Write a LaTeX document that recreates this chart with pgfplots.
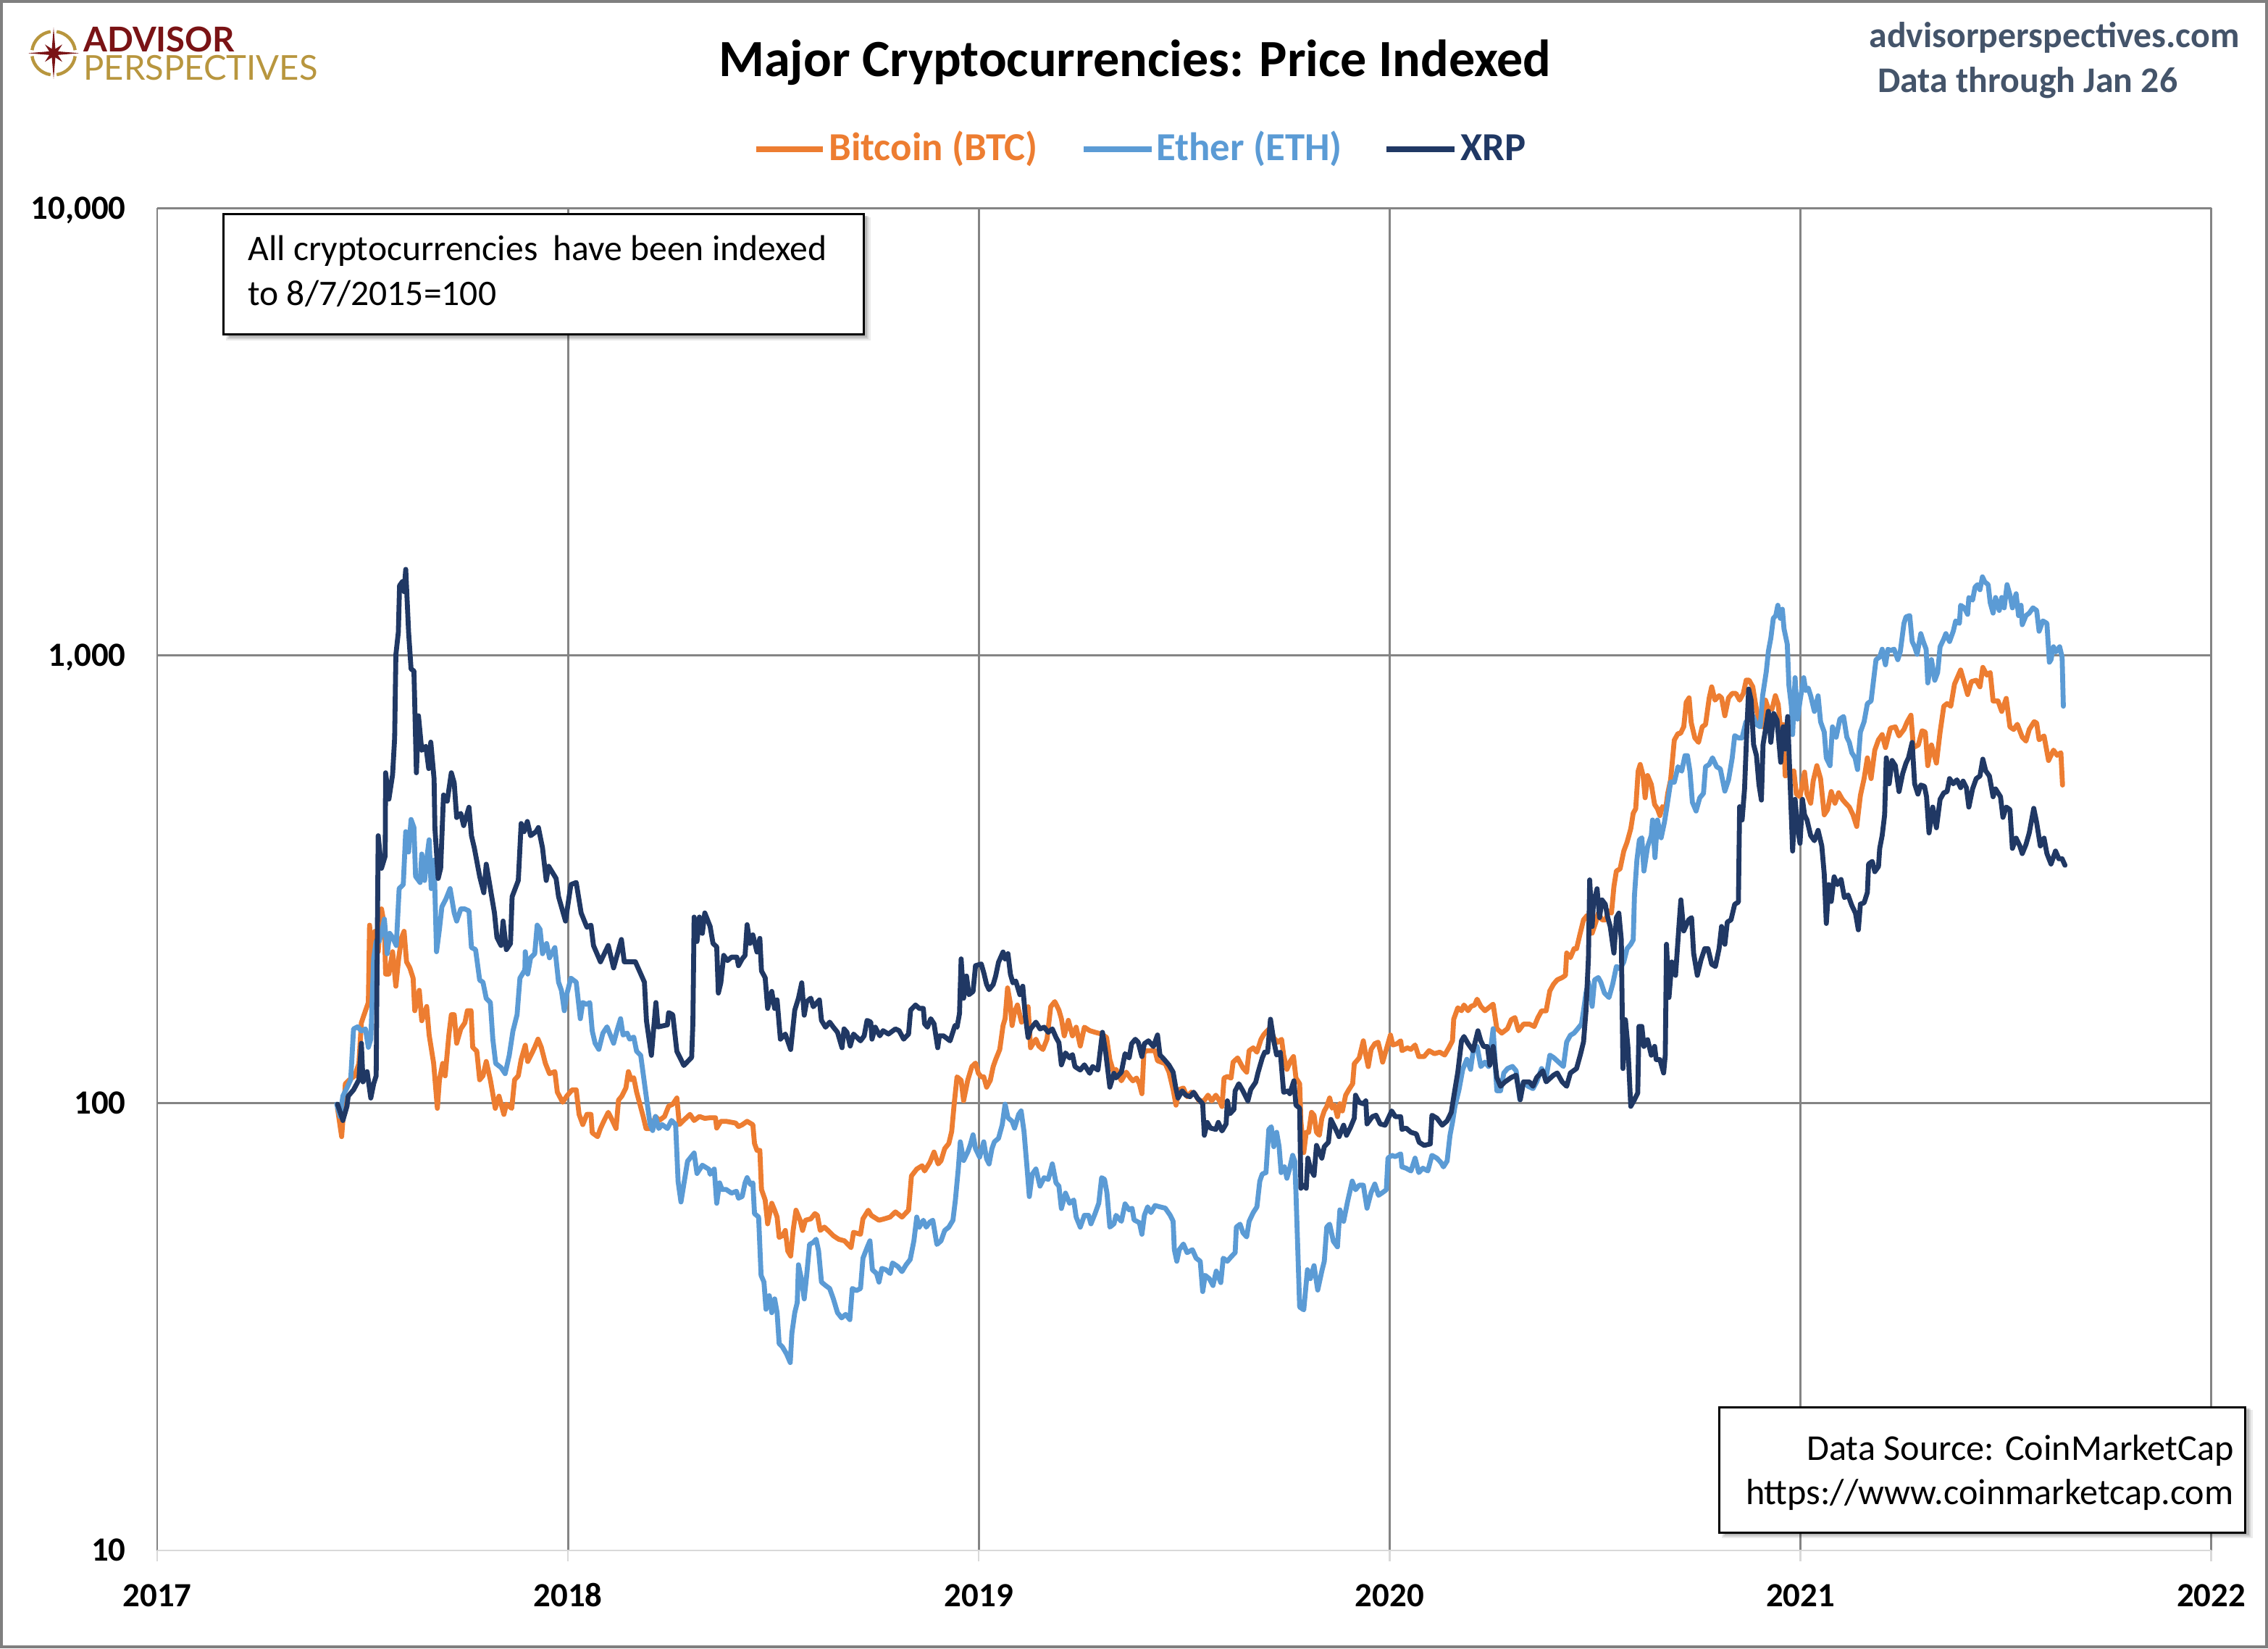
\documentclass[border=0pt]{standalone}
\usepackage{fontspec}
\setmainfont{Carlito}
\newfontfamily\lato{Lato}
\usepackage{pgfplots}
\pgfplotsset{compat=1.18}
\definecolor{btc}{HTML}{ED7D31}
\definecolor{eth}{HTML}{5B9BD5}
\definecolor{xrp}{HTML}{203864}
\definecolor{gridgray}{HTML}{848484}
\definecolor{axisgray}{HTML}{D9D9D9}
\definecolor{apred}{HTML}{7A1315}
\definecolor{apgold}{HTML}{B8963E}
\definecolor{slate}{HTML}{44546A}
\definecolor{bordergray}{HTML}{7F7F7F}
\pgfplotsset{dataline/.style={line width=3.4bp, line join=round, line cap=round, mark=none}}
\begin{document}
\begin{tikzpicture}
\begin{scope}[x=1bp,y=1bp]
\path[use as bounding box] (0,0) rectangle (1565.5,1137.5);
\fill[white] (0,0) rectangle (1565.5,1137.5);
\end{scope}
\begin{axis}[
  at={(108.5bp,67.5bp)}, anchor=south west,
  scale only axis, width=1417.8bp, height=926.4bp,
  xmin=2017, xmax=2022, ymode=log, log basis y=10, ymin=10, ymax=10000,
  axis x line*=bottom, axis y line*=left,
  x axis line style={draw=axisgray, line width=1.2bp},
  y axis line style={draw=none},
  xtick={2017,2018,2019,2020,2021,2022},
  xticklabels={2017,2018,2019,2020,2021,2022},
  ytick={10,100,1000,10000},
  yticklabels={10,100,{1,000},{10,000}},
  minor ytick={}, yminorticks=false,
  major tick length=7.5bp,
  xtick style={draw=axisgray, line width=1.2bp, yshift=-7.5bp},
  ytick style={draw=none},
  grid=major,
  major grid style={draw=gridgray, line width=1.4bp},
  ticklabel style={font=\fontsize{23.5}{26}\selectfont\bfseries, text=black},
  xticklabel style={anchor=center, inner sep=0pt, yshift=-31bp},
  yticklabel style={anchor=base east, inner sep=0pt, xshift=-21.5bp, yshift=-7.5bp},
]
% Bitcoin (BTC)
\addplot[btc, dataline] coordinates {
(2017.439,97.3)(2017.449,84.1)(2017.455,99.4)(2017.458,110.4)(2017.468,112.7)(2017.481,115)(2017.491,122.6)(2017.497,151.1)(2017.507,160.8)(2017.514,167.7)(2017.517,249.7)(2017.522,211.1)(2017.530,241.9)(2017.538,217.8)(2017.546,271.5)(2017.553,249.7)(2017.556,194.2)(2017.564,194.2)(2017.573,217.8)(2017.581,182.4)(2017.588,211.1)(2017.595,234.4)(2017.601,241.9)(2017.607,206.8)(2017.615,200.4)(2017.623,190.1)(2017.627,160.8)(2017.638,178.6)(2017.644,152.7)(2017.656,164.3)(2017.662,141.9)(2017.673,122.6)(2017.682,97.3)(2017.687,112.7)(2017.695,122.6)(2017.701,115)(2017.710,141.9)(2017.716,157.5)(2017.723,157.5)(2017.729,136)(2017.739,146.4)(2017.749,151.1)(2017.755,160.8)(2017.764,160.8)(2017.768,133.2)(2017.778,130.5)(2017.785,112.7)(2017.793,115)(2017.801,123.8)(2017.811,112.7)(2017.823,97.3)(2017.832,103.6)(2017.844,94.3)(2017.850,99.4)(2017.863,97.3)(2017.870,112.7)(2017.879,115)(2017.886,125.1)(2017.896,134.6)(2017.902,123.8)(2017.912,129.1)(2017.919,133.2)(2017.927,138.9)(2017.935,133.2)(2017.945,122.6)(2017.955,116.3)(2017.968,117.5)(2017.974,105.8)(2017.987,100.4)(2017.997,103.6)(2018.010,107)(2018.020,107)(2018.027,94.3)(2018.036,89.5)(2018.046,94.3)(2018.056,94.3)(2018.059,85.8)(2018.072,84.1)(2018.079,87.7)(2018.088,91.4)(2018.098,95.3)(2018.108,91.4)(2018.117,87.7)(2018.123,101.5)(2018.131,103.6)(2018.141,108.1)(2018.147,117.5)(2018.154,112.7)(2018.160,113.9)(2018.167,105.8)(2018.175,99.4)(2018.183,93.3)(2018.190,87.7)(2018.203,87.7)(2018.213,93.3)(2018.222,91.4)(2018.235,93.3)(2018.245,98.4)(2018.255,99.4)(2018.265,102.6)(2018.271,89.5)(2018.281,91.4)(2018.297,94.3)(2018.307,91.4)(2018.320,93.3)(2018.333,92.4)
(2018.346,92.7)(2018.359,92.7)(2018.362,87.9)(2018.372,91)(2018.385,91)(2018.408,90.2)(2018.415,88.6)(2018.424,89.4)(2018.436,91)(2018.450,89.4)(2018.454,81.2)(2018.460,78.4)(2018.467,78.4)(2018.471,64.1)(2018.480,60.7)(2018.486,53.7)(2018.496,59.7)(2018.503,57.6)(2018.509,55.6)(2018.514,50.1)(2018.522,50.5)(2018.529,51.9)(2018.535,46.7)(2018.542,45.5)(2018.548,51.9)(2018.555,57.6)(2018.565,54.7)(2018.571,51.9)(2018.578,54.7)(2018.591,55.1)(2018.601,56.6)(2018.607,56.1)(2018.614,51.9)(2018.624,52.8)(2018.633,51.9)(2018.646,50.5)(2018.659,49.6)(2018.673,49.2)(2018.689,47.5)(2018.695,51.4)(2018.712,50.9)(2018.718,55.1)(2018.731,57.6)(2018.738,56.1)(2018.757,54.7)(2018.770,55.1)(2018.784,55.6)(2018.797,57.1)(2018.813,55.6)(2018.829,57.6)(2018.836,68.7)(2018.849,71.2)(2018.862,72.4)(2018.868,70.5)(2018.881,73.7)(2018.891,77.7)(2018.901,73.1)(2018.908,74.3)(2018.917,79.1)(2018.927,81.2)(2018.934,86.4)(2018.940,99.4)(2018.947,114.4)(2018.957,112.4)(2018.963,101.2)(2018.973,112.4)(2018.983,120.6)(2018.992,122.8)(2018.999,116.5)(2019.006,114.4)(2019.012,114.4)(2019.019,108.5)(2019.028,112.4)(2019.035,120.6)(2019.041,125)(2019.051,131.7)(2019.059,149)(2019.064,154.3)(2019.070,180.8)(2019.076,168.5)(2019.081,149)(2019.087,159.8)(2019.094,165.6)(2019.104,151.6)(2019.113,155.7)(2019.120,164.1)(2019.126,132.9)(2019.139,138.9)(2019.146,134.1)(2019.156,131.7)(2019.166,138.9)(2019.175,164.1)(2019.185,168.5)(2019.195,161.3)(2019.201,154.3)(2019.208,141.3)(2019.218,153)(2019.228,141.3)(2019.237,147.7)(2019.247,134.1)(2019.257,147.7)(2019.270,145.1)(2019.283,143.9)(2019.299,142.6)(2019.311,140.1)(2019.319,125)(2019.329,116.5)
(2019.334,118.9)(2019.347,112.1)(2019.359,117.2)(2019.369,113.7)(2019.375,112.1)(2019.384,113.7)(2019.391,110.4)(2019.397,104.9)(2019.402,129.9)(2019.410,130.9)(2019.429,130.9)(2019.435,124.3)(2019.444,123.4)(2019.454,122.4)(2019.463,117.2)(2019.473,107.2)(2019.480,98.9)(2019.488,107.2)(2019.498,108)(2019.507,103.3)(2019.517,105.7)(2019.526,104.9)(2019.536,101.1)(2019.548,101.1)(2019.558,104.1)(2019.567,101.1)(2019.577,104.1)(2019.586,101.1)(2019.592,98.2)(2019.597,113.7)(2019.605,114.6)(2019.614,113.7)(2019.619,123.4)(2019.630,126.1)(2019.643,119.8)(2019.652,117.2)(2019.658,130.9)(2019.668,132.8)(2019.677,129.9)(2019.687,138.8)(2019.693,141.9)(2019.699,144)(2019.709,147.2)(2019.718,139.8)(2019.728,136.7)(2019.737,138.8)(2019.742,128)(2019.750,118.9)(2019.759,124.3)(2019.766,127)(2019.772,113.7)(2019.781,110.4)(2019.784,91.2)(2019.791,77.5)(2019.797,86)(2019.803,86)(2019.810,95.3)(2019.816,93.9)(2019.822,86)(2019.829,84.7)(2019.835,92.5)(2019.841,96)(2019.847,98.2)(2019.854,102.6)(2019.860,97.4)(2019.866,98.9)(2019.873,93.2)(2019.879,99.6)(2019.885,96)(2019.893,104.1)(2019.901,107.2)(2019.910,110.4)(2019.914,122.4)(2019.926,126.1)(2019.936,137.7)(2019.942,128)(2019.948,120.6)(2019.955,131.8)(2019.964,135.7)(2019.972,136.7)(2019.978,129.9)(2019.983,123.4)(2019.992,131.8)(2020.002,141.9)(2020.008,134.8)(2020.018,135.7)(2020.027,137.7)(2020.030,130.9)(2020.043,132.8)(2020.052,131.8)(2020.062,134.8)(2020.071,127)(2020.084,127)(2020.096,130.9)(2020.109,128.9)(2020.122,129.9)(2020.134,128)(2020.144,132.8)(2020.153,137.7)(2020.156,153.9)(2020.166,163.2)(2020.175,160.8)(2020.181,165.6)(2020.191,160.8)(2020.198,164.4)(2020.207,165.6)(2020.213,170.6)(2020.222,164.4)(2020.232,160.8)(2020.241,163.2)
(2020.252,166.3)(2020.261,146.6)(2020.273,143.3)(2020.287,146.6)(2020.296,153.5)(2020.305,155.2)(2020.314,145)(2020.326,150.1)(2020.340,150.1)(2020.352,148.3)(2020.361,155.2)(2020.370,160.7)(2020.381,160.7)(2020.390,178.1)(2020.399,184.3)(2020.408,188.5)(2020.420,190.7)(2020.428,192.9)(2020.431,216.3)(2020.440,211.3)(2020.449,221.2)(2020.455,221.2)(2020.464,239.7)(2020.472,256.6)(2020.481,262.6)(2020.487,250.8)(2020.493,239.7)(2020.502,253.7)(2020.508,265.6)(2020.517,256.6)(2020.525,256.6)(2020.534,268.6)(2020.540,265.6)(2020.546,304.6)(2020.552,329.9)(2020.561,333.7)(2020.570,365.6)(2020.578,382.7)(2020.587,410)(2020.593,444.2)(2020.599,454.5)(2020.605,551.6)(2020.610,570.9)(2020.617,539.3)(2020.622,481)(2020.628,539.3)(2020.637,515.1)(2020.645,464.8)(2020.652,454.5)(2020.658,438.9)(2020.664,459.5)(2020.672,454.5)(2020.677,492)(2020.684,527.1)(2020.693,647.1)(2020.702,669.6)(2020.708,669.6)(2020.716,693.1)(2020.722,786.2)(2020.729,804.3)(2020.734,709.1)(2020.743,654.6)(2020.752,639.8)(2020.761,693.1)(2020.769,701.1)(2020.778,804.3)(2020.784,851.2)(2020.792,795)(2020.802,813.4)(2020.808,804.3)(2020.816,733.7)(2020.825,804.3)(2020.834,822.8)(2020.843,822.8)(2020.852,795)(2020.861,822.8)(2020.868,881)(2020.875,881)(2020.884,851.2)(2020.890,786.2)(2020.899,709.1)(2020.908,693.1)(2020.915,795)(2020.922,759.5)(2020.931,759.5)(2020.939,813.4)(2020.946,777.3)(2020.952,677.3)(2020.958,701.1)
(2020.963,537.9)(2020.984,552.5)(2020.990,490.1)(2020.999,483.6)(2021.010,548.8)(2021.016,490.1)(2021.025,467.7)(2021.031,524)(2021.040,567.4)(2021.049,530.9)(2021.058,440.6)(2021.066,452.4)(2021.075,496.6)(2021.084,467.7)(2021.093,493.4)(2021.102,477.1)(2021.110,467.7)(2021.119,458.5)(2021.128,440.6)(2021.137,415)(2021.146,486.8)(2021.155,530.9)(2021.163,590.6)(2021.172,530.9)(2021.181,614.6)(2021.190,648.3)(2021.199,665.8)(2021.207,622.8)(2021.219,688.2)(2021.231,692.8)(2021.240,661.3)(2021.252,683.6)(2021.260,711.4)(2021.269,735.6)(2021.275,622.8)(2021.287,631.1)(2021.296,679)(2021.304,674.5)(2021.310,567.4)(2021.319,631.1)(2021.331,575)(2021.340,674.5)(2021.349,770.6)(2021.357,780.9)(2021.366,770.6)(2021.375,862.9)(2021.390,928.3)(2021.399,868.6)(2021.407,818)(2021.416,874.5)(2021.428,880.4)(2021.437,851.2)(2021.444,940.8)(2021.454,904.1)(2021.462,916.1)(2021.469,791.6)(2021.481,791.6)(2021.490,750.3)(2021.501,802.1)(2021.510,692.8)(2021.519,683.6)(2021.528,702)(2021.540,656.9)(2021.549,644)(2021.557,683.6)(2021.569,711.4)(2021.575,706.7)(2021.581,648.3)(2021.593,661.3)(2021.604,582.7)(2021.616,614.6)(2021.625,598.4)(2021.634,606.4)(2021.638,513.5)
};
% Ether (ETH)
\addplot[eth, dataline] coordinates {
(2017.437,99.4)(2017.445,93.3)(2017.452,103.6)(2017.462,108.1)(2017.471,112.7)(2017.478,146.4)(2017.488,148)(2017.497,144.9)(2017.507,146.4)(2017.514,133.2)(2017.520,138.9)(2017.527,211.1)(2017.533,229.6)(2017.540,229.6)(2017.546,239.4)(2017.553,257.6)(2017.560,215.6)(2017.566,239.4)(2017.573,234.4)(2017.582,224.9)(2017.589,301.4)(2017.599,307.7)(2017.605,404)(2017.612,363.9)(2017.618,430.1)(2017.625,412.6)(2017.629,321)(2017.640,311)(2017.644,360.1)(2017.651,314.3)(2017.657,356.3)(2017.662,387.5)(2017.667,301.4)(2017.674,349)(2017.680,217.8)(2017.687,244.4)(2017.693,274.3)(2017.703,286)(2017.713,301.4)(2017.723,265.9)(2017.729,255)(2017.739,271.4)(2017.749,271.4)(2017.759,268.6)(2017.765,222.5)(2017.775,220.2)(2017.785,188.2)(2017.793,186.2)(2017.801,171.3)(2017.811,167.7)(2017.817,138.9)(2017.824,122.6)(2017.837,120)(2017.847,116.3)(2017.857,127.8)(2017.866,144.9)(2017.876,157.5)(2017.883,190.1)(2017.895,198.3)(2017.896,217.8)(2017.902,194.2)(2017.909,211.1)(2017.919,215.6)(2017.925,249.7)(2017.932,244.4)(2017.938,215.6)(2017.948,227.2)(2017.955,211.1)(2017.968,222.5)(2017.977,186.2)(2017.984,178.6)(2017.991,160.8)(2017.997,174.9)(2018.007,190.1)(2018.020,186.2)(2018.030,154.3)(2018.036,167.7)(2018.046,166)(2018.053,167.7)(2018.059,144.9)(2018.066,136)(2018.075,131.8)(2018.085,143.3)(2018.095,148)(2018.105,140.4)(2018.111,136)(2018.119,144.9)(2018.128,154.3)(2018.134,141.9)(2018.144,143.3)(2018.150,138.9)(2018.160,140.4)(2018.167,130.5)(2018.177,127.8)(2018.185,112.7)(2018.193,99.4)(2018.200,89.5)(2018.206,86.8)(2018.213,93.3)(2018.221,87.7)(2018.229,89.5)(2018.242,87.7)(2018.252,91.4)(2018.262,89.5)(2018.268,66.8)(2018.275,60.1)(2018.291,74.1)(2018.307,77.3)(2018.314,69.6)(2018.327,72.6)(2018.343,71.1)
(2018.346,69.3)(2018.356,71.2)(2018.362,59.7)(2018.369,66.3)(2018.375,64.1)(2018.385,64.1)(2018.398,62.9)(2018.410,63.5)(2018.415,61.3)(2018.424,61.8)(2018.431,66.3)(2018.436,68.1)(2018.444,65.8)(2018.450,66.3)(2018.454,56.6)(2018.464,55.6)(2018.470,41.2)(2018.477,39.8)(2018.482,34.6)(2018.490,37.1)(2018.496,34)(2018.503,36.5)(2018.509,34)(2018.514,29)(2018.522,28.5)(2018.532,27.5)(2018.541,26.3)(2018.545,30.6)(2018.552,34)(2018.558,35.8)(2018.561,43.5)(2018.568,40.5)(2018.575,36.5)(2018.581,41.2)(2018.588,48.3)(2018.597,48.8)(2018.604,49.6)(2018.610,46.7)(2018.617,39.8)(2018.627,39.1)(2018.637,38.5)(2018.646,36.5)(2018.656,34)(2018.666,33.1)(2018.676,33.7)(2018.686,32.8)(2018.692,38.5)(2018.702,38.1)(2018.712,38.5)(2018.718,45)(2018.728,47.5)(2018.735,49.2)(2018.741,42.4)(2018.751,41.6)(2018.757,39.8)(2018.764,42.7)(2018.774,42.4)(2018.784,41.6)(2018.790,43.9)(2018.803,43.1)(2018.813,42)(2018.823,43.5)(2018.833,44.7)(2018.842,49.2)(2018.849,55.6)(2018.855,52.8)(2018.865,54.7)(2018.872,52.8)(2018.881,54.2)(2018.888,54.7)(2018.898,48.3)(2018.908,49.2)(2018.917,51.9)(2018.927,52.8)(2018.937,54.7)(2018.943,60.7)(2018.950,71.2)(2018.955,81.9)(2018.963,74.4)(2018.973,77.7)(2018.979,80.5)(2018.986,84.9)(2018.992,79.1)(2019.002,75.7)(2019.012,81.9)(2019.019,75)(2019.025,73.1)(2019.032,79.1)(2019.038,81.9)(2019.048,83.4)(2019.057,89.4)(2019.064,99.4)(2019.071,92.7)(2019.081,91)(2019.087,87.9)(2019.097,94.3)(2019.103,96)(2019.110,86.4)(2019.117,72.4)(2019.123,61.8)(2019.130,69.3)(2019.139,71.2)(2019.149,65.2)(2019.159,68.1)(2019.169,67.5)(2019.179,73.1)(2019.188,66.3)(2019.195,65.2)(2019.201,58.1)(2019.211,62.9)(2019.221,59.7)(2019.231,60.7)(2019.237,55.6)(2019.247,52.8)(2019.257,56.1)(2019.267,56.1)(2019.273,53.7)(2019.283,56.6)(2019.292,59.7)(2019.299,68.1)(2019.306,67.5)(2019.312,62.9)(2019.319,52.8)(2019.329,53.7)
(2019.334,56.1)(2019.347,54.4)(2019.356,59.5)(2019.366,57.7)(2019.373,58.2)(2019.378,54.8)(2019.391,54)(2019.397,50.9)(2019.403,56.1)(2019.411,58.6)(2019.419,56.9)(2019.429,59)(2019.441,58.6)(2019.454,58.2)(2019.466,56.1)(2019.473,54.4)(2019.476,47)(2019.482,44.3)(2019.488,47)(2019.498,48.4)(2019.507,46.3)(2019.520,47)(2019.529,45)(2019.539,44.3)(2019.545,37.9)(2019.551,41.2)(2019.561,40.5)(2019.570,39.1)(2019.578,42.1)(2019.589,39.7)(2019.595,45)(2019.605,44.3)(2019.614,45.3)(2019.624,46.3)(2019.627,52.8)(2019.636,53.6)(2019.643,51.3)(2019.652,50.2)(2019.658,54.4)(2019.668,56.9)(2019.677,58.6)(2019.684,66.9)(2019.690,69.4)(2019.699,69.9)(2019.706,87.3)(2019.712,88.5)(2019.718,79.9)(2019.725,86)(2019.731,79.9)(2019.736,69.9)(2019.744,72)(2019.750,67.9)(2019.756,71)(2019.764,76.4)(2019.769,74.2)(2019.772,63.1)(2019.781,35)(2019.791,34.5)(2019.800,42.4)(2019.807,40.5)(2019.816,43.3)(2019.825,38.2)(2019.835,42.1)(2019.841,44.3)(2019.847,52.8)(2019.854,53.6)(2019.863,49.1)(2019.873,47.7)(2019.879,57.7)(2019.888,54.4)(2019.898,60.4)(2019.909,66.9)(2019.917,64)(2019.926,65.5)(2019.936,65.5)(2019.945,58.2)(2019.955,63.1)(2019.964,65.9)(2019.973,62.2)(2019.983,63.1)(2019.992,64)(2019.996,75.3)(2020.005,76.4)(2020.014,75.9)(2020.027,77)(2020.030,72)(2020.040,71.5)(2020.052,70.5)(2020.062,75.3)(2020.071,69.9)(2020.081,71.5)(2020.093,70.5)(2020.103,76.4)(2020.115,75.3)(2020.125,73.6)(2020.131,72)(2020.140,74.2)(2020.147,84.7)(2020.153,90.5)(2020.159,98.2)(2020.169,107.2)(2020.178,118.9)(2020.188,125.2)(2020.197,118.9)(2020.203,129.9)(2020.213,133.7)(2020.222,120.6)(2020.232,123.4)(2020.241,120.6)
(2020.252,146.6)(2020.261,106.5)(2020.270,106.5)(2020.278,116.7)(2020.287,119.4)(2020.299,120.7)(2020.308,118)(2020.317,101.7)(2020.326,111.5)(2020.337,109)(2020.349,107.7)(2020.358,111.5)(2020.370,119.4)(2020.381,114)(2020.390,127.9)(2020.399,126.4)(2020.411,123.5)(2020.423,120.7)(2020.431,136.9)(2020.440,141.7)(2020.449,143.3)(2020.458,146.6)(2020.467,150.1)(2020.472,160.7)(2020.478,176.1)(2020.484,186.4)(2020.493,164.4)(2020.499,188.5)(2020.508,190.7)(2020.514,186.4)(2020.523,176.1)(2020.534,172.1)(2020.543,184.3)(2020.552,201.9)(2020.561,199.6)(2020.570,206.6)(2020.578,221.2)(2020.587,226.3)(2020.593,231.6)(2020.596,290.9)(2020.602,349.3)(2020.608,387.1)(2020.614,391.5)(2020.619,329.9)(2020.628,374.1)(2020.637,396.1)(2020.640,429)(2020.646,353.4)(2020.652,429)(2020.661,391.5)(2020.669,424.2)(2020.675,459.4)(2020.684,521.1)(2020.693,521.1)(2020.702,564.3)(2020.711,551.6)(2020.719,597.4)(2020.725,597.4)(2020.731,551.6)(2020.737,470.1)(2020.746,449.3)(2020.755,481)(2020.764,492)(2020.769,564.3)(2020.778,570.9)(2020.786,590.8)(2020.796,564.3)(2020.805,557.9)(2020.816,497.7)(2020.825,527.1)(2020.834,590.8)(2020.840,662.2)(2020.849,654.6)(2020.858,654.6)(2020.867,709.1)(2020.875,725.5)(2020.884,733.7)(2020.893,701.1)(2020.902,693.1)(2020.908,813.4)(2020.917,922.2)(2020.922,1022)(2020.928,1094)
(2020.934,1211)(2020.940,1228)(2020.945,1295)(2020.951,1211)(2020.956,1269)(2020.960,1148)(2020.968,1060)(2020.972,857)(2020.978,770.6)(2020.981,665.8)(2020.987,892.2)(2020.993,721)(2020.999,791.6)(2021.008,892.2)(2021.013,834.8)(2021.019,845.9)(2021.025,812.7)(2021.034,750.3)(2021.043,812.7)(2021.049,711.4)(2021.058,674.5)(2021.063,590.6)(2021.072,567.4)(2021.078,692.8)(2021.087,656.9)(2021.096,721)(2021.105,730.7)(2021.113,656.9)(2021.119,639.6)(2021.125,606.5)(2021.133,590.6)(2021.139,556.2)(2021.146,674.5)(2021.155,711.4)(2021.163,780.9)(2021.172,791.6)(2021.178,880.4)(2021.184,979)(2021.193,992.2)(2021.199,1033)(2021.207,953.5)(2021.213,1033)(2021.219,1026)(2021.228,1033)(2021.237,979)(2021.243,1019)(2021.252,1180)(2021.257,1220)(2021.266,1228)(2021.272,1075)(2021.278,1046)(2021.284,1006)(2021.293,1119)(2021.299,1075)(2021.306,1033)(2021.310,868.6)(2021.319,979)(2021.327,880.4)(2021.334,916.1)(2021.340,1046)(2021.349,1089)(2021.354,1119)(2021.363,1075)(2021.372,1133)(2021.378,1195)(2021.387,1180)(2021.390,1295)(2021.399,1278)(2021.407,1236)(2021.410,1348)(2021.419,1330)(2021.425,1421)(2021.431,1440)(2021.437,1403)(2021.443,1499)(2021.449,1460)(2021.457,1440)(2021.462,1312)(2021.469,1244)(2021.475,1348)(2021.484,1261)(2021.490,1348)(2021.496,1278)(2021.503,1440)(2021.510,1365)(2021.516,1278)(2021.525,1374)(2021.531,1228)(2021.537,1295)(2021.540,1172)(2021.549,1228)(2021.557,1244)(2021.566,1278)(2021.575,1261)(2021.581,1133)(2021.590,1195)(2021.600,1180)(2021.606,966.2)(2021.610,979)(2021.616,1046)(2021.622,1019)(2021.631,1046)(2021.637,992.2)(2021.640,770.6)
};
% XRP
\addplot[xrp, dataline] coordinates {
(2017.439,99.4)(2017.452,91.4)(2017.462,98.4)(2017.465,103.6)(2017.478,107)(2017.491,112.7)(2017.497,136)(2017.501,111.5)(2017.511,117.5)(2017.520,102.6)(2017.527,110.4)(2017.533,115)(2017.538,395.7)(2017.546,334.6)(2017.555,356.3)(2017.556,547)(2017.564,477.6)(2017.573,541.6)(2017.578,653.9)(2017.581,1004)(2017.587,1127)(2017.590,1433)(2017.597,1463)(2017.601,1389)(2017.605,1558)(2017.612,1127)(2017.618,933)(2017.625,923.6)(2017.631,547)(2017.636,733.5)(2017.644,614)(2017.654,627)(2017.661,559)(2017.666,640.5)(2017.674,530.4)(2017.676,412.6)(2017.684,317.6)(2017.690,334.6)(2017.697,487.7)(2017.706,472.7)(2017.716,547)(2017.723,519.3)(2017.729,434.6)(2017.739,443.8)(2017.746,416.9)(2017.759,458)(2017.765,395.7)(2017.772,371.5)(2017.785,321)(2017.795,295.1)(2017.801,341.7)(2017.811,301.4)(2017.821,265.9)(2017.827,234.4)(2017.837,224.9)(2017.842,255)(2017.850,220.2)(2017.860,227.2)(2017.864,289.1)(2017.879,314.3)(2017.886,421.3)(2017.893,404)(2017.901,425.7)(2017.909,395.7)(2017.922,404)(2017.928,412.6)(2017.938,371.5)(2017.947,314.3)(2017.953,338.1)(2017.971,317.6)(2017.977,289.1)(2017.994,255)(2018.007,307.7)(2018.020,311)(2018.032,265.9)(2018.046,247.1)(2018.056,249.7)(2018.062,224.9)(2018.079,206.8)(2018.098,224.9)(2018.111,200.4)(2018.130,232)(2018.137,206.8)(2018.164,206.8)(2018.186,186.2)(2018.191,152.7)(2018.203,127.8)(2018.214,167.7)(2018.219,147.9)(2018.242,149.5)(2018.245,159.2)(2018.255,157.5)(2018.265,130.5)(2018.282,121.3)(2018.301,126.5)(2018.304,151.1)(2018.307,260.3)(2018.314,229.6)(2018.320,260.3)(2018.327,239.4)(2018.333,265.9)
(2018.346,248)(2018.353,227.3)(2018.362,223.3)(2018.366,176.1)(2018.372,185.6)(2018.379,213.7)(2018.388,208.1)(2018.398,211.8)(2018.411,211.8)(2018.415,202.7)(2018.424,209.9)(2018.431,213.7)(2018.436,250.3)(2018.443,227.3)(2018.450,237.5)(2018.460,217.5)(2018.467,233.3)(2018.471,197.4)(2018.480,190.5)(2018.486,162.7)(2018.496,177.6)(2018.503,162.7)(2018.509,170)(2018.517,138.9)(2018.529,142.6)(2018.542,131.7)(2018.552,161.3)(2018.561,171.5)(2018.569,185.6)(2018.575,157.1)(2018.581,168.5)(2018.591,171.5)(2018.597,164.1)(2018.612,170)(2018.617,153)(2018.627,147.7)(2018.637,151.6)(2018.646,147.7)(2018.656,143.9)(2018.667,132.9)(2018.672,146.4)(2018.679,143.9)(2018.687,134.1)(2018.695,142.6)(2018.712,137.7)(2018.721,141.3)(2018.728,153)(2018.737,151.6)(2018.740,138.9)(2018.748,147.7)(2018.759,141.3)(2018.767,145.1)(2018.780,142.6)(2018.797,146.4)(2018.806,145.1)(2018.817,138.9)(2018.829,142.6)(2018.834,161.3)(2018.846,165.6)(2018.855,162.7)(2018.865,162.7)(2018.868,150.3)(2018.875,147.7)(2018.883,154.3)(2018.891,150.3)(2018.900,132.9)(2018.904,141.3)(2018.914,141.3)(2018.930,137.7)(2018.942,149)(2018.947,147.7)(2018.953,158.5)(2018.957,209.9)(2018.963,171.5)(2018.970,192.2)(2018.976,174.6)(2018.986,177.6)(2018.992,202.7)(2019.006,204.5)(2019.012,195.7)(2019.019,184)(2019.025,179.2)(2019.035,184)(2019.041,192.2)(2019.048,206.3)(2019.059,217.5)(2019.064,209.9)(2019.071,215.6)(2019.077,194)(2019.083,185.6)(2019.090,187.3)(2019.100,174.6)(2019.107,182.4)(2019.113,157.1)(2019.120,140.1)(2019.126,146.4)(2019.139,151.6)(2019.149,146.4)(2019.159,147.7)(2019.169,143.9)(2019.179,146.4)(2019.188,140.1)(2019.195,136.4)(2019.201,121.7)(2019.211,129.4)(2019.221,126.1)(2019.228,128.3)(2019.234,120.6)(2019.247,118.5)(2019.257,121.7)(2019.270,116.5)(2019.277,120.6)(2019.290,118.5)(2019.301,143.9)(2019.309,129.4)(2019.319,108.5)(2019.329,116.5)
(2019.334,113.8)(2019.347,117.2)(2019.356,128.9)(2019.366,126.1)(2019.372,135.7)(2019.381,138.8)(2019.388,136.7)(2019.397,127)(2019.403,135.7)(2019.413,137.7)(2019.425,133.7)(2019.435,141.9)(2019.441,128)(2019.451,125.2)(2019.463,121.5)(2019.473,117.2)(2019.479,108.8)(2019.485,102.6)(2019.495,106.4)(2019.504,104.1)(2019.514,103.3)(2019.523,105.7)(2019.532,102.6)(2019.545,99.6)(2019.549,84.7)(2019.556,90.5)(2019.564,87.9)(2019.577,87.3)(2019.583,90.5)(2019.592,86.6)(2019.602,89.8)(2019.605,101.1)(2019.611,94.6)(2019.621,96.7)(2019.624,106.4)(2019.633,110.4)(2019.643,106.4)(2019.655,101.1)(2019.662,107.2)(2019.674,111.3)(2019.680,117.2)(2019.690,126.1)(2019.696,129.9)(2019.703,129.9)(2019.710,153.9)(2019.718,137.7)(2019.725,128)(2019.734,129.9)(2019.742,105.7)(2019.753,106.4)(2019.757,104.9)(2019.767,112.1)(2019.772,98.9)(2019.781,97.4)(2019.784,64.5)(2019.791,65.5)(2019.797,64.5)(2019.801,75.3)(2019.808,71)(2019.816,68.9)(2019.822,80.4)(2019.835,75.3)(2019.841,79.9)(2019.851,81.7)(2019.857,91.9)(2019.866,88.5)(2019.877,84.1)(2019.888,89.2)(2019.895,84.7)(2019.904,87.9)(2019.914,92.5)(2019.917,104.1)(2019.926,100.3)(2019.936,99.6)(2019.942,101.1)(2019.945,89.8)(2019.958,93.2)(2019.967,93.9)(2019.977,89.8)(2019.989,89.2)(2020.005,96)(2020.014,93.2)(2020.027,93.2)(2020.030,87.3)(2020.040,87.9)(2020.052,86)(2020.065,85.3)(2020.072,81.7)(2020.084,80.4)(2020.099,81)(2020.103,93.9)(2020.115,92.5)(2020.128,89.2)(2020.140,91.2)(2020.150,95.3)(2020.159,107.2)(2020.166,117.2)(2020.175,137.7)(2020.181,140.8)(2020.191,135.7)(2020.203,130.9)(2020.215,145)(2020.222,137.7)(2020.229,133.7)(2020.238,133.7)(2020.244,121.5)
(2020.252,133.8)(2020.261,114)(2020.270,109)(2020.281,111.5)(2020.296,114)(2020.308,115.4)(2020.318,101.7)(2020.326,111.5)(2020.340,111.5)(2020.349,109)(2020.358,114)(2020.373,118)(2020.381,111.5)(2020.399,115.4)(2020.408,116.7)(2020.420,111.5)(2020.431,109)(2020.440,116.7)(2020.455,119.4)(2020.464,127.9)(2020.472,136.9)(2020.478,160.7)(2020.484,211.3)(2020.487,315.2)(2020.493,248)(2020.496,278)(2020.505,301.2)(2020.511,259.6)(2020.517,284.4)(2020.525,278)(2020.531,259.6)(2020.537,248)(2020.546,216.3)(2020.552,259.6)(2020.558,265.6)(2020.564,231.6)(2020.568,119.4)(2020.574,153.5)(2020.580,133.8)(2020.587,98.3)(2020.596,101.7)(2020.604,105.3)(2020.607,148.3)(2020.614,148.3)(2020.619,133.8)(2020.628,138.5)(2020.637,127.9)(2020.645,133.8)(2020.649,125)(2020.658,125)(2020.667,116.7)(2020.671,127.9)(2020.674,226.3)(2020.680,172.1)(2020.687,206.6)(2020.696,192.9)(2020.705,253.7)(2020.709,284.4)(2020.716,242.4)(2020.728,256.6)(2020.735,259.6)(2020.740,216.3)(2020.749,192.9)(2020.758,208.9)(2020.767,221.2)(2020.775,221.2)(2020.784,204.2)(2020.793,201.9)(2020.802,221.2)(2020.808,248)(2020.816,226.3)(2020.822,253.7)(2020.831,256.6)(2020.840,278)(2020.849,281.2)(2020.852,459.4)(2020.858,429)(2020.864,503.4)(2020.869,662.2)(2020.874,841.7)(2020.880,795)(2020.886,632.5)(2020.893,597.4)(2020.899,515.1)(2020.905,475.3)(2020.909,632.5)(2020.916,693.1)(2020.922,750.7)(2020.928,639.8)(2020.935,742.2)(2020.943,717.2)(2020.952,577.3)(2020.958,693.1)(2020.963,618.3)
(2020.969,730.7)(2020.975,516.9)(2020.981,365.7)(2020.987,477.1)(2020.993,412.2)(2020.999,380.5)(2021.005,477.1)(2021.010,440.6)(2021.016,429)(2021.025,396)(2021.034,385.7)(2021.043,406.7)(2021.052,375.5)(2021.058,324.5)(2021.063,251.9)(2021.069,307.6)(2021.075,282.1)(2021.082,320.2)(2021.090,307.6)(2021.099,315.9)(2021.107,287.8)(2021.116,291.6)(2021.125,276.5)(2021.134,265.7)(2021.141,243.8)(2021.146,278.3)(2021.155,280.2)(2021.163,295.5)(2021.166,342.1)(2021.175,346.7)(2021.181,328.8)(2021.190,337.7)(2021.193,370.7)(2021.199,396.2)(2021.205,440.6)(2021.209,590.6)(2021.216,516.9)(2021.223,582.7)(2021.231,567.4)(2021.240,496.6)(2021.249,545.2)(2021.257,575)(2021.263,590.6)(2021.272,639.6)(2021.278,516.9)(2021.286,490.1)(2021.293,513.5)(2021.302,510.1)(2021.307,483.6)(2021.313,401.4)(2021.322,458.5)(2021.331,412.2)(2021.340,477.1)(2021.349,493.4)(2021.357,496.6)(2021.363,530.9)(2021.372,516.9)(2021.381,527.5)(2021.390,506.7)(2021.396,524)(2021.404,506.7)(2021.410,458.5)(2021.419,503.4)(2021.428,530.9)(2021.437,537.9)(2021.444,586.7)(2021.451,552.5)(2021.460,537.9)(2021.469,483.6)(2021.475,503.4)(2021.487,483.6)(2021.493,434.9)(2021.501,458.5)(2021.510,452.4)(2021.516,370.7)(2021.525,390.8)(2021.534,375.5)(2021.540,360.9)(2021.549,378.1)(2021.557,401.4)(2021.568,455.5)(2021.575,423.5)(2021.584,375.5)(2021.593,390.8)(2021.600,360.9)(2021.610,342.1)(2021.621,365.7)(2021.629,351.4)(2021.637,351.4)(2021.644,339.8)
};
\end{axis}
\begin{scope}[x=1bp,y=1bp]
% outer border
\draw[bordergray, line width=2bp] (1,1) rectangle (1564.5,1136.5);
% logo
\begin{scope}[shift={(37,1100.8)}]
\draw[apgold, line width=2.2bp] (8:15) arc (8:82:15);
\draw[apgold, line width=2.2bp] (98:15) arc (98:172:15);
\draw[apgold, line width=2.2bp] (188:15) arc (188:262:15);
\draw[apgold, line width=2.2bp] (278:15) arc (278:352:15);
\fill[apred] (90:17.7) -- (67.5:3.2) -- (45:8.5) -- (22.5:3.2) -- (0:17.7) -- (-22.5:3.2) -- (-45:8.5) -- (-67.5:3.2) -- (-90:17.7) -- (-112.5:3.2) -- (-135:8.5) -- (-157.5:3.2) -- (180:17.7) -- (157.5:3.2) -- (135:8.5) -- (112.5:3.2) -- cycle;
\end{scope}
\node[anchor=north west, inner sep=0pt, align=left, font=\lato\fontsize{23.7}{19.5}\selectfont] at (57.5,1119) {{\bfseries\color{apred}ADVISOR}\\{\color{apgold}PERSPECTIVES}};
% title
\node[anchor=base, inner sep=0pt, font=\fontsize{36.2}{40}\selectfont\bfseries] at (783.5,1084.5) {Major Cryptocurrencies: Price Indexed};
% site
\node[anchor=base west, inner sep=0pt, text=slate, font=\fontsize{25}{28}\selectfont\bfseries] at (1290,1104.5) {advisorperspectives.com};
\node[anchor=base west, inner sep=0pt, text=slate, font=\fontsize{25}{28}\selectfont\bfseries] at (1296,1073.7) {Data through Jan 26};
% legend
\draw[btc, line width=3.6bp] (522,1034.5) -- (568,1034.5);
\node[anchor=base west, inner sep=0pt, text=btc, font=\fontsize{27.5}{30}\selectfont\bfseries] at (572,1026.5) {Bitcoin (BTC)};
\draw[eth, line width=3.6bp] (748,1034.5) -- (795,1034.5);
\node[anchor=base west, inner sep=0pt, text=eth, font=\fontsize{27.5}{30}\selectfont\bfseries] at (798,1026.5) {Ether (ETH)};
\draw[xrp, line width=3.6bp] (957,1034.5) -- (1004,1034.5);
\node[anchor=base west, inner sep=0pt, text=xrp, font=\fontsize{27.5}{30}\selectfont\bfseries] at (1008,1026.5) {XRP};
% note box
\fill[black, opacity=0.08] (156,902.5) rectangle (601,987.5);
\fill[black, opacity=0.10] (157,903.5) rectangle (599.5,988.5);
\fill[black, opacity=0.12] (158,904.5) rectangle (598.5,988.5);
\draw[black, line width=1.5bp, fill=white] (154,906.5) rectangle (596,989.5);
\node[anchor=base west, inner sep=0pt, font=\fontsize{24.9}{28}\selectfont] at (171,957.5) {All cryptocurrencies\hspace{0.2em} have been indexed};
\node[anchor=base west, inner sep=0pt, font=\fontsize{24.9}{28}\selectfont] at (171,926.5) {to 8/7/2015=100};
% source box
\fill[black, opacity=0.08] (1188.5,76) rectangle (1555,164.5);
\fill[black, opacity=0.10] (1189.5,77) rectangle (1553.5,165.5);
\fill[black, opacity=0.12] (1190.5,78) rectangle (1552.5,165.5);
\draw[black, line width=1.5bp, fill=white] (1186.5,80) rectangle (1549.7,166.5);
\node[anchor=base east, inner sep=0pt, font=\fontsize{25.2}{28}\selectfont] at (1542,130) {Data Source: CoinMarketCap};
\node[anchor=base east, inner sep=0pt, font=\fontsize{25.2}{28}\selectfont] at (1542,99.5) {https://www.coinmarketcap.com};
\end{scope}
\end{tikzpicture}
\end{document}
